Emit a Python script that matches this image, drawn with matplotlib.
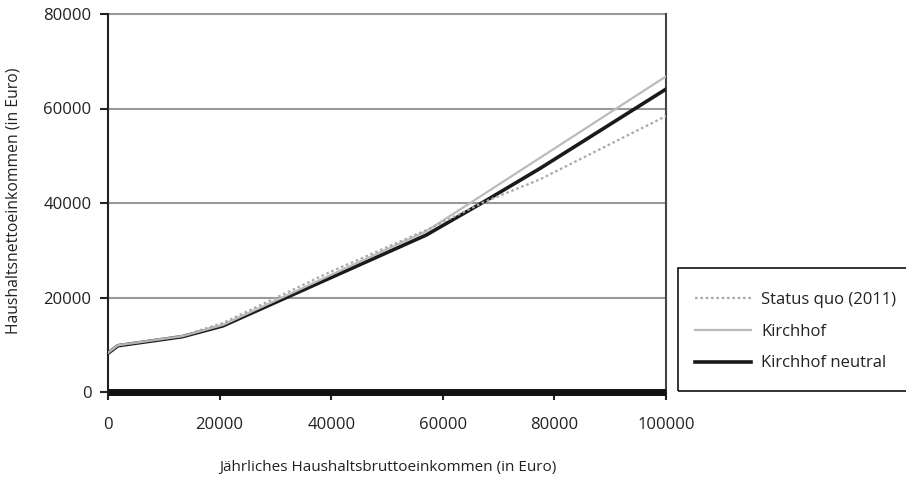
import matplotlib
matplotlib.use("Agg")
import matplotlib.pyplot as plt
from matplotlib.patches import Rectangle

plt.rcParams['font.family'] = ['Open Sans', 'DejaVu Sans']

# Werte
brutto_sq = [0, 1800, 13300, 20600, 39800, 57100, 67200, 77400, 100000]
status_quo = [8300, 9900, 11900, 14600, 25400, 34300, 40100, 45000, 58400]

brutto_k = [0, 1800, 13300, 20600, 40000, 57000, 64900, 100000]
kirchhof = [8300, 9900, 11800, 14200, 24800, 34000, 40000, 66800]

brutto_kn = [0, 1800, 13300, 20600, 57000, 67000, 77400, 100000]
kirchhof_neutral = [8200, 9800, 11700, 14000, 33200, 40000, 47300, 64100]

x_ticks = [0, 20000, 40000, 60000, 80000, 100000]
y_ticks = [0, 20000, 40000, 60000, 80000]

fig = plt.figure(figsize=(9.06, 4.84), dpi=100)
ax = fig.add_axes([108 / 906, 1 - 392 / 484, 558 / 906, 378 / 484])

for y in y_ticks[1:]:
    ax.axhline(y, color='#999999', lw=1.5, zorder=1, clip_on=False)

l3, = ax.plot(brutto_kn, kirchhof_neutral, color='#1a1a1a', lw=2.6, zorder=3,
              label='Kirchhof neutral')
l2, = ax.plot(brutto_k, kirchhof, color='#bbbbbb', lw=1.6, zorder=4,
              label='Kirchhof')
l1, = ax.plot(brutto_sq, status_quo, color='#aaaaaa', lw=1.6, ls=(0, (1.2, 1.2)),
              zorder=5, label='Status quo (2011)')

ax.axhline(0, color='#111111', lw=5, zorder=6, solid_capstyle='butt', clip_on=False)

ax.set_xlim(0, 100000)
ax.set_ylim(0, 80000)
ax.set_xticks(x_ticks)
ax.set_yticks(y_ticks)
ax.set_xticklabels([str(v) for v in x_ticks])
ax.set_yticklabels([str(v) for v in y_ticks])
ax.tick_params(axis='both', direction='out', length=6, width=1.5, color='#222222',
               labelsize=12, labelcolor='#222222')
ax.tick_params(axis='x', pad=12)
ax.tick_params(axis='y', pad=6)

for side in ['top', 'bottom']:
    ax.spines[side].set_visible(False)
ax.spines['left'].set_color('#222222')
ax.spines['left'].set_linewidth(1.5)
ax.spines['right'].set_color('#444444')
ax.spines['right'].set_linewidth(1.5)

fig.text(388 / 906, 1 - 468 / 484, 'Jährliches Haushaltsbruttoeinkommen (in Euro)',
         ha='center', va='center', fontsize=11, color='#222222')
fig.text(14 / 906, 1 - 201 / 484, 'Haushaltsnettoeinkommen (in Euro)',
         ha='center', va='center', rotation=90, fontsize=11.3, color='#222222')

# Legendenrahmen
fig.patches.append(Rectangle((678 / 906, 1 - 391 / 484), 240 / 906, 123 / 484,
                             transform=fig.transFigure, fill=False,
                             edgecolor='#111111', lw=1.2))
leg = fig.legend(handles=[l1, l2, l3], loc='upper left',
                 bbox_to_anchor=(688 / 906, 1 - 285 / 484), frameon=False,
                 fontsize=12, handlelength=3.4, handletextpad=0.6,
                 labelspacing=0.95, borderaxespad=0)
for t in leg.get_texts():
    t.set_color('#222222')

fig.savefig('out.png', dpi=100)
